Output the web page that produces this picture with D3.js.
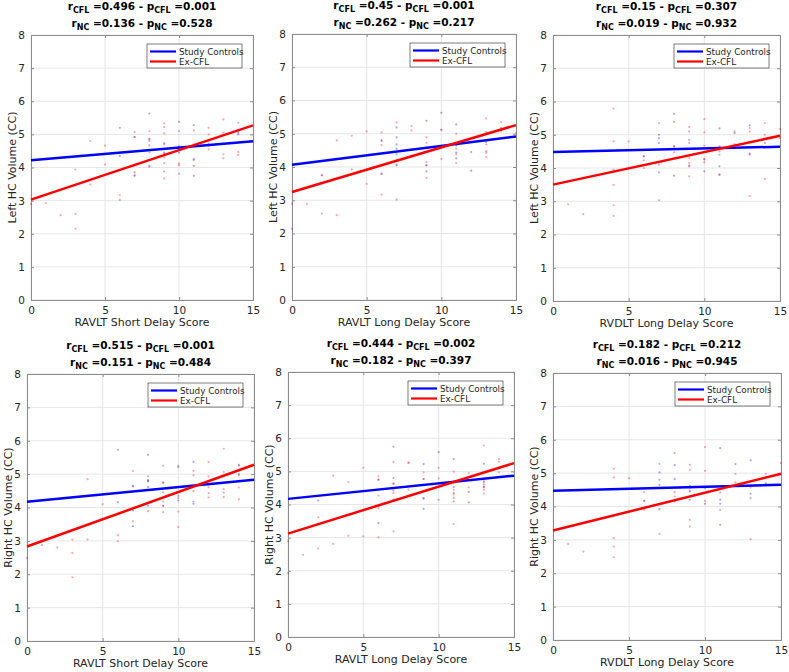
<!DOCTYPE html>
<html><head><meta charset="utf-8">
<script src="https://cdn.jsdelivr.net/npm/d3@7"></script>
<style>body{margin:0;background:#fff}</style>
</head><body><svg id="c" width="789" height="672"></svg>
<script>
const xTicks=[0,5,10,15];
const yTicks=[0,1,2,3,4,5,6,7,8];
const xLabels=["RAVLT Short Delay Score","RAVLT Long Delay Score","RVDLT Long Delay Score","RAVLT Short Delay Score","RAVLT Long Delay Score","RVDLT Long Delay Score"];
const yLabels=["Left HC Volume (CC)","Left HC Volume (CC)","Left HC Volume (CC)","Right HC Volume (CC)","Right HC Volume (CC)","Right HC Volume (CC)"];
const rCFL=["0.496","0.45","0.15","0.515","0.444","0.182"];
const pCFL=["0.001","0.001","0.307","0.001","0.002","0.212"];
const rNC=["0.136","0.262","0.019","0.151","0.182","0.016"];
const pNC=["0.528","0.217","0.932","0.484","0.397","0.945"];
const seriesNames=["Study Controls","Ex-CFL"];
// regression line values at x=0 and x=15
const fitNC=[[4.22,4.79],[4.07,4.92],[4.48,4.64],[4.17,4.83],[4.17,4.87],[4.47,4.65]];
const fitCFL=[[3.03,5.27],[3.25,5.26],[3.50,4.97],[2.83,5.28],[3.12,5.25],[3.28,4.98]];
// scatter points [score, volume]
const ncPoints=[
 [[6,5.2],[6,4.35],[7,4.92],[7,3.85],[7,3.75],[8,5.63],[8,4.67],[8,4.85],[8,4.05],[9,4.73],[9,4.45],[9,3.88],[10,5.38],[10,4.64],[10,4.45],[11,5.28],[11,4.25],[11,4.05],[11,3.75],[11,4.65],[12,4.72],[13,4.72],[14,5.05],[14,5.0]],
 [[2,3.75],[6,4.78],[6,3.79],[7,5.19],[7,4.89],[7,4.68],[7,4.55],[7,4.38],[7,4.05],[9,5.39],[9,3.87],[9,4.05],[10,5.63],[10,5.12],[11,5.28],[11,4.65],[11,4.43],[11,4.26],[12,4.45],[12,3.89],[13,5.05],[13,4.75]],
 [[6,4.35],[7,5.0],[7,4.9],[7,4.75],[7,3.87],[8,5.63],[8,5.39],[8,4.65],[8,3.77],[9,4.85],[9,4.07],[10,4.27],[10,3.9],[11,5.19],[11,4.65],[11,4.05],[11,3.8],[12,5.05],[13,5.28],[13,4.43],[14,4.75]],
 [[6,5.73],[6,4.16],[7,4.63],[7,3.91],[7,3.44],[8,5.58],[8,4.81],[8,4.78],[8,4.61],[8,4.05],[9,4.75],[9,4.45],[9,4.05],[10,5.21],[10,4.35],[10,4.21],[11,5.37],[11,4.18],[11,4.11],[14,5.28],[14,5.0]],
 [[2,4.12],[6,3.44],[6,4.75],[7,5.75],[7,4.8],[7,4.63],[7,4.5],[7,4.43],[7,4.15],[9,5.22],[9,4.77],[9,4.19],[9,3.87],[10,5.58],[11,5.37],[11,4.53],[11,4.35],[11,4.09],[12,4.38],[12,4.06],[13,5.23],[13,4.7],[13,4.53]],
 [[6,4.17],[7,5.02],[7,4.8],[7,4.65],[7,3.92],[8,5.6],[8,5.24],[8,4.82],[8,4.15],[9,4.62],[9,4.2],[9,4.45],[10,4.55],[10,4.08],[11,5.75],[11,4.2],[11,4.08],[11,3.45],[12,5.27],[13,5.38],[13,4.38],[14,4.7]]
];
const cflPoints=[
 [[0,2.9],[1,2.92],[2,2.56],[3,3.94],[3,2.6],[3,2.15],[4,4.8],[4,3.49],[5,4.66],[5,4.09],[6,3.17],[6,3.02],[7,5.07],[7,4.92],[7,3.77],[8,5.1],[8,4.87],[8,4.8],[8,4.45],[8,4.02],[9,5.33],[9,5.22],[9,5.03],[9,4.7],[9,4.42],[9,4.3],[9,4.13],[9,3.67],[10,5.1],[10,4.62],[10,4.12],[10,4.07],[10,3.81],[11,5.12],[11,4.7],[11,4.22],[12,5.2],[12,5.0],[12,4.8],[12,4.66],[12,4.55],[13,5.45],[13,5.05],[13,4.4],[13,4.28],[14,5.35],[14,5.1],[14,4.47],[14,4.38]],
 [[0,2.9],[0,2.14],[1,2.89],[2,2.6],[2,3.75],[3,4.8],[3,2.55],[4,4.94],[4,3.93],[5,5.07],[5,3.49],[6,5.04],[6,4.81],[6,4.66],[6,3.8],[6,3.17],[7,5.34],[7,4.2],[7,4.07],[7,3.02],[8,5.23],[8,5.1],[9,4.89],[9,4.73],[9,4.58],[9,4.15],[9,4.05],[9,3.67],[10,5.12],[10,4.24],[11,5.0],[11,4.55],[11,4.38],[11,4.12],[13,5.46],[13,4.68],[13,4.48],[13,4.43],[13,4.3],[14,5.35],[14,5.18],[14,5.07],[15,5.03]],
 [[1,2.91],[2,2.61],[4,5.79],[4,4.8],[4,3.95],[4,3.49],[4,2.88],[4,2.56],[5,4.8],[6,4.23],[6,4.0],[6,4.35],[7,5.35],[7,4.1],[7,3.03],[8,4.47],[8,4.65],[9,5.23],[9,5.1],[9,4.75],[9,4.3],[9,4.15],[9,4.05],[9,3.75],[10,5.47],[10,5.07],[10,4.67],[10,4.25],[10,4.17],[11,4.5],[11,4.4],[11,3.8],[12,5.1],[12,4.72],[13,5.2],[13,5.1],[13,4.4],[13,3.16],[14,5.35],[14,5.0],[14,3.67],[15,5.17],[15,4.9]],
 [[0,2.49],[1,2.87],[2,2.8],[3,3.04],[3,2.64],[3,1.91],[4,4.85],[4,3.04],[5,4.1],[6,3.17],[6,2.99],[7,5.09],[7,4.65],[7,3.59],[8,4.93],[8,4.81],[8,3.89],[9,5.25],[9,4.73],[9,4.18],[9,4.05],[9,3.86],[10,5.25],[10,4.28],[10,3.88],[10,3.41],[11,5.1],[11,4.96],[11,4.49],[12,5.36],[12,4.93],[12,4.61],[12,4.43],[12,4.3],[13,5.76],[13,5.06],[13,4.55],[13,4.45],[13,4.31],[14,5.25],[14,4.96],[14,4.6],[14,4.25]],
 [[0,2.89],[0,1.93],[1,2.48],[2,3.61],[2,2.67],[3,4.87],[3,2.81],[4,4.68],[4,3.06],[5,5.11],[5,3.04],[6,4.85],[6,4.75],[6,4.27],[6,3.94],[6,3.88],[6,3.01],[7,5.28],[7,4.63],[7,4.35],[7,4.12],[7,3.19],[8,5.27],[8,5.25],[8,4.45],[9,4.97],[9,4.77],[9,4.18],[10,5.11],[10,4.79],[10,4.14],[11,4.99],[11,4.65],[11,4.45],[11,4.3],[11,4.2],[11,3.41],[12,4.95],[12,4.52],[13,5.78],[13,4.67],[13,4.6],[13,4.53],[13,4.45],[13,4.33],[14,5.37],[14,5.29],[14,5.1],[14,4.97]],
 [[1,2.88],[2,2.65],[4,5.13],[4,4.87],[4,3.05],[4,2.8],[4,2.48],[5,4.85],[6,4.43],[6,4.17],[6,3.9],[7,5.28],[7,3.18],[8,4.43],[8,4.3],[9,5.25],[9,5.1],[9,4.55],[9,4.47],[9,3.6],[9,3.4],[10,5.78],[10,5.07],[10,4.17],[11,3.9],[11,4.42],[12,4.98],[12,4.72],[13,4.57],[13,4.25],[13,3.02],[14,4.98],[14,4.88],[14,4.65],[15,5.3]]
];

const boxes=[
 {l:31,r:253,t:35,b:300},{l:292,r:516,t:34,b:300},{l:553,r:780,t:35,b:301},
 {l:27,r:254,t:374,b:641},{l:288,r:514,t:372,b:637},{l:553,r:781,t:373,b:640}
];
const BLUE="#0000ff", RED="#ff0000";
const svg=d3.select("#c");
const FONT="DejaVu Sans, sans-serif";

boxes.forEach((bx,i)=>{
  const x=d3.scaleLinear().domain([0,15]).range([bx.l,bx.r]);
  const y=d3.scaleLinear().domain([0,8]).range([bx.b,bx.t]);
  const g=svg.append("g");
  // grid
  g.append("g").selectAll("line").data(xTicks).join("line")
    .attr("x1",d=>x(d)).attr("x2",d=>x(d)).attr("y1",bx.t).attr("y2",bx.b)
    .attr("stroke","#e6e6e6").attr("stroke-width",1);
  g.append("g").selectAll("line").data(yTicks).join("line")
    .attr("y1",d=>y(d)).attr("y2",d=>y(d)).attr("x1",bx.l).attr("x2",bx.r)
    .attr("stroke","#e6e6e6").attr("stroke-width",1);
  // axes
  g.append("g").attr("transform",`translate(0,${bx.b})`)
    .call(d3.axisBottom(x).tickValues(xTicks).tickSize(-3).tickPadding(7));
  g.append("g").attr("transform",`translate(${bx.l},0)`)
    .call(d3.axisLeft(y).tickValues(yTicks).tickSize(-3).tickPadding(6));
  g.append("g").attr("transform",`translate(0,${bx.t})`)
    .call(d3.axisTop(x).tickValues(xTicks).tickSize(-3).tickFormat(""));
  g.append("g").attr("transform",`translate(${bx.r},0)`)
    .call(d3.axisRight(y).tickValues(yTicks).tickSize(-3).tickFormat(""));
  g.selectAll(".domain").attr("stroke","#8c8c8c");
  g.selectAll(".tick line").attr("stroke","#8c8c8c");
  g.selectAll(".tick text").attr("fill","#262626").style("font-family",FONT).style("font-size","10.5px");
  // points
  g.append("g").selectAll("circle").data(ncPoints[i]).join("circle")
    .attr("cx",d=>x(d[0])).attr("cy",d=>y(d[1])).attr("r",1.1)
    .attr("fill",BLUE).attr("fill-opacity",0.35);
  g.append("g").selectAll("circle").data(cflPoints[i]).join("circle")
    .attr("cx",d=>x(d[0])).attr("cy",d=>y(d[1])).attr("r",1.1)
    .attr("fill",RED).attr("fill-opacity",0.35);
  // fit lines
  g.append("line").attr("x1",x(0)).attr("x2",x(15)).attr("y1",y(fitNC[i][0])).attr("y2",y(fitNC[i][1]))
    .attr("stroke",BLUE).attr("stroke-width",2.5);
  g.append("line").attr("x1",x(0)).attr("x2",x(15)).attr("y1",y(fitCFL[i][0])).attr("y2",y(fitCFL[i][1]))
    .attr("stroke",RED).attr("stroke-width",2.5);
  // legend
  const lw=95, lh=24, lx=bx.r-11-lw, ly=bx.t+9;
  const lg=g.append("g");
  lg.append("rect").attr("x",lx).attr("y",ly).attr("width",lw).attr("height",lh)
    .attr("fill","#fff").attr("stroke","#262626").attr("stroke-width",0.6);
  [BLUE,RED].forEach((c,k)=>{
    const yy=ly+7.5+k*10;
    lg.append("line").attr("x1",lx+3).attr("x2",lx+29).attr("y1",yy).attr("y2",yy)
      .attr("stroke",c).attr("stroke-width",2.2);
    lg.append("text").attr("x",lx+32).attr("y",yy+3.3).text(seriesNames[k])
      .style("font-family",FONT).style("font-size","8.8px").attr("fill","#262626");
  });
  // title
  const cx=(bx.l+bx.r)/2;
  const mk=(yy,r,rs,p,ps)=>{
    const t=g.append("text").attr("x",cx).attr("y",yy).attr("text-anchor","middle")
      .style("font-family",FONT).style("font-size","10.5px").style("font-weight","bold").attr("fill","#000");
    t.append("tspan").text("r");
    t.append("tspan").attr("dy",3).style("font-size","8px").text(rs);
    t.append("tspan").attr("dy",-3).text(" ="+r+" - p");
    t.append("tspan").attr("dy",3).style("font-size","8px").text(ps);
    t.append("tspan").attr("dy",-3).text(" ="+p);
  };
  mk(bx.t-25,rCFL[i],"CFL",pCFL[i],"CFL");
  mk(bx.t-8.5,rNC[i],"NC",pNC[i],"NC");
  // axis labels
  g.append("text").attr("x",cx).attr("y",bx.b+26).attr("text-anchor","middle")
    .style("font-family",FONT).style("font-size","11px").attr("fill","#262626").text(xLabels[i]);
  g.append("text").attr("transform",`translate(${bx.l-15},${(bx.t+bx.b)/2}) rotate(-90)`)
    .attr("text-anchor","middle")
    .style("font-family",FONT).style("font-size","11px").attr("fill","#262626").text(yLabels[i]);
});
</script></body></html>
